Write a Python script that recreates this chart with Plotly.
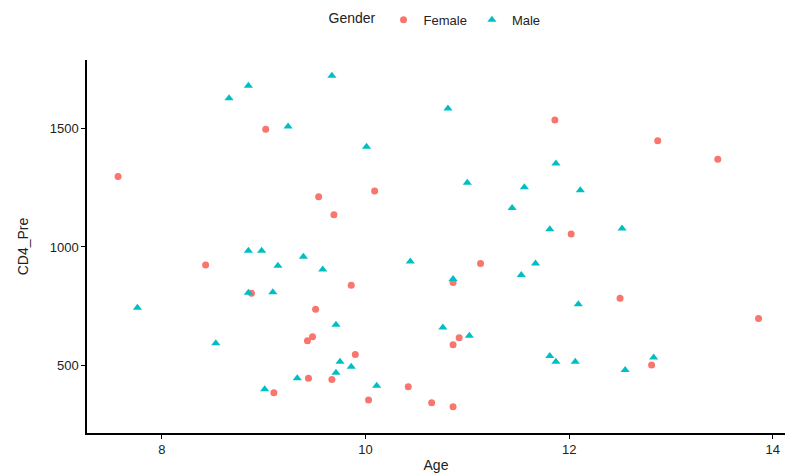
import plotly.graph_objects as go

female_age = [7.57, 9.02, 9.54, 10.09, 9.69, 11.86, 12.87, 13.46, 8.43, 8.88,
              9.51, 9.48, 9.43, 9.44, 9.10, 11.13, 10.86, 9.86, 10.92, 10.86,
              9.90, 9.67, 10.42, 10.03, 10.65, 10.86, 12.02, 12.50, 13.86, 12.81]
female_cd4 = [1298, 1499, 1213, 1237, 1136, 1538, 1450, 1372, 924, 804,
              736, 620, 603, 444, 383, 930, 849, 838, 616, 586,
              544, 439, 408, 352, 340, 323, 1055, 783, 697, 500]

male_age = [8.66, 8.85, 9.24, 9.67, 10.81, 10.01, 11.00, 11.56, 11.44, 11.87,
            12.11, 8.85, 8.98, 9.14, 9.39, 8.85, 9.09, 7.76, 8.53, 9.33,
            9.01, 9.58, 10.44, 10.86, 11.53, 11.67, 9.71, 10.76, 11.02, 9.75,
            9.86, 9.71, 10.11, 11.81, 12.52, 12.09, 11.81, 11.87, 12.06, 12.83,
            12.55]
male_cd4 = [1630, 1683, 1510, 1725, 1587, 1425, 1272, 1253, 1165, 1354,
            1240, 984, 984, 920, 959, 806, 808, 743, 592, 444,
            397, 905, 938, 864, 881, 930, 671, 659, 624, 514,
            493, 467, 412, 1075, 1078, 757, 538, 514, 514, 532,
            479]

x_ticks = [8, 10, 12, 14]
y_ticks = [500, 1000, 1500]

FONT = "Liberation Sans, Arial, sans-serif"

fig = go.Figure()
fig.add_trace(go.Scatter(x=female_age, y=female_cd4, mode="markers", name="Female",
                         marker=dict(symbol="circle", size=7, color="#F8766D")))
fig.add_trace(go.Scatter(x=male_age, y=male_cd4, mode="markers", name="Male",
                         marker=dict(symbol="triangle-up", size=8, color="#00BFC4")))

axis_common = dict(showgrid=False, zeroline=False, showline=True, linecolor="black",
                   linewidth=1.5, ticks="outside", ticklen=4, tickcolor="black",
                   tickwidth=1, tickfont=dict(family=FONT, size=13, color="#222222"))

fig.update_layout(
    width=788, height=474,
    margin=dict(l=87, r=3, t=60, b=41),
    paper_bgcolor="white", plot_bgcolor="white",
    font=dict(family=FONT, size=13, color="#222222"),
    xaxis=dict(range=[7.265, 14.12], tickvals=x_ticks,
               title=dict(text="Age", font=dict(size=14), standoff=4), **axis_common),
    yaxis=dict(range=[212, 1792], tickvals=y_ticks,
               title=dict(text="CD4_Pre", font=dict(size=14), standoff=18), **axis_common),
    legend=dict(orientation="h", x=0.5, xanchor="center", yref="container",
                y=0.958, yanchor="middle",
                title=dict(text="Gender", side="left", font=dict(size=14)),
                font=dict(size=13), itemwidth=30),
    showlegend=True,
)

fig.write_html("out.html")
